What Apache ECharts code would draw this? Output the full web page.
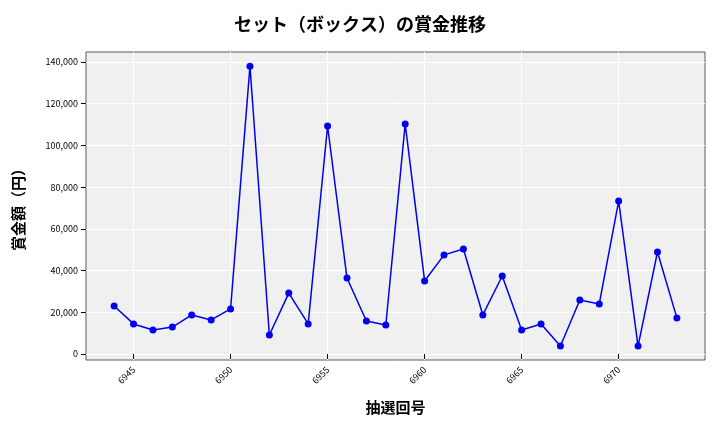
<!DOCTYPE html>
<html>
<head>
<meta charset="utf-8">
<script src="https://cdn.jsdelivr.net/npm/echarts@6/dist/echarts.min.js"></script>
<style>html,body{margin:0;padding:0;background:#fff}#chart{width:720px;height:432px}</style>
</head>
<body>
<div id="chart"></div>
<script>
var draws = [];
for (var d = 6944; d <= 6973; d++) draws.push(d);
var prizes = [23000, 14400, 11500, 12900, 18700, 16300, 21600, 138000, 9100, 29200,
    14400, 109300, 36400, 15800, 13900, 110300, 35000, 47500, 50300, 18700,
    37400, 11500, 14400, 3800, 25900, 24000, 73300, 3800, 48900, 17300];
var xTicks = [6945, 6950, 6955, 6960, 6965, 6970];
var yTicks = [0, 20000, 40000, 60000, 80000, 100000, 120000, 140000];

var chart = echarts.init(document.getElementById('chart'));
var font = '"Noto Sans CJK JP", "DejaVu Sans", sans-serif';
chart.setOption({
    animation: false,
    title: {
        text: 'セット（ボックス）の賞金推移',
        left: 'center',
        top: 10,
        textStyle: {fontFamily: font, fontSize: 18, fontWeight: 'bold', color: '#000'}
    },
    grid: {left: 86, right: 15, top: 52, bottom: 72, backgroundColor: '#f0f0f0', show: true, borderColor: '#333', borderWidth: 0.8},
    xAxis: {
        type: 'value',
        min: 6942.55,
        max: 6974.45,
        name: '抽選回号',
        nameLocation: 'middle',
        nameGap: 40,
        nameTextStyle: {fontFamily: font, fontSize: 15, fontWeight: 'bold', color: '#000'},
        axisLine: {show: false},
        axisTick: {show: true, customValues: xTicks, lineStyle: {color: '#000'}},
        axisLabel: {customValues: xTicks, rotate: 45, fontSize: 9, color: '#000', fontFamily: font,
            formatter: function (v) { return String(v); }},
        splitLine: {show: true, lineStyle: {color: '#fff', width: 1}}
    },
    yAxis: {
        type: 'value',
        min: -2900,
        max: 144800,
        name: '賞金額（円）',
        nameLocation: 'middle',
        nameGap: 60,
        nameTextStyle: {fontFamily: font, fontSize: 15, fontWeight: 'bold', color: '#000'},
        axisLine: {show: false},
        axisTick: {show: true, customValues: yTicks, lineStyle: {color: '#000'}},
        axisLabel: {
            customValues: yTicks, fontSize: 9, color: '#000', fontFamily: font,
            formatter: function (v) { return v.toLocaleString('en-US'); }
        },
        splitLine: {show: true, lineStyle: {color: '#fff', width: 1}}
    },
    series: [{
        type: 'line',
        data: draws.map(function (d, i) { return [d, prizes[i]]; }),
        symbol: 'circle',
        symbolSize: 7,
        lineStyle: {color: '#0000ee', width: 1.5},
        itemStyle: {color: '#0000ee'}
    }]
});
</script>
</body>
</html>
